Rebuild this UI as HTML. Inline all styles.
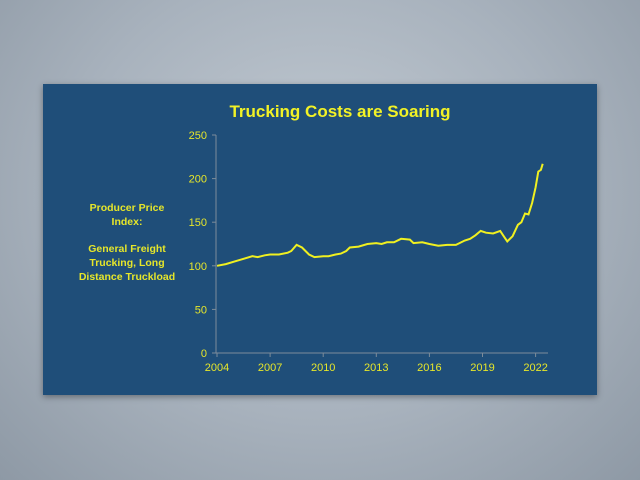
<!DOCTYPE html>
<html><head><meta charset="utf-8"><style>
html,body{margin:0;padding:0}
body{width:640px;height:480px;overflow:hidden;background:radial-gradient(ellipse at 50% 40%,#c3cbd3 0%,#a8b2bd 55%,#8e99a5 100%);font-family:"Liberation Sans",sans-serif}
#panel{position:absolute;left:43px;top:84px;width:554px;height:311px;background:#1f4e79;box-shadow:0 2px 6px rgba(0,0,0,.35)}
</style></head><body>
<div id="panel"></div>
<svg width="640" height="480" style="position:absolute;left:0;top:0">
<text x="340" y="117" text-anchor="middle" fill="#f2f226" font-size="17" font-weight="bold">Trucking Costs are Soaring</text>
<g fill="#e6e62a" font-size="10.5" font-weight="bold" text-anchor="middle">
<text x="127" y="211">Producer Price</text>
<text x="127" y="225">Index:</text>
<text x="127" y="252">General Freight</text>
<text x="127" y="266">Trucking, Long</text>
<text x="127" y="280">Distance Truckload</text>
</g>
<g id="axes"></g>
<path id="line" fill="none" stroke="#f0f020" stroke-width="2"/>
</svg>
<script>
const years=[2004,2004.5,2005,2005.5,2006,2006.3,2006.7,2007,2007.5,2008,2008.2,2008.5,2008.8,2009.2,2009.5,2010,2010.3,2010.7,2011,2011.3,2011.5,2012,2012.5,2013,2013.3,2013.6,2014,2014.4,2014.9,2015.1,2015.6,2016,2016.5,2017,2017.5,2018,2018.3,2018.6,2018.9,2019.2,2019.6,2020,2020.2,2020.4,2020.7,2021,2021.2,2021.4,2021.6,2021.8,2022,2022.15,2022.3,2022.4];
const values=[100,102,105,108,111,110,112,113,113,115,117,124,121,113,110,111,111,113,114,117,121,122,125,126,125,127,127,131,130,126,127,125,123,124,124,129,131,135,140,138,137,140,134,128,134,147,150,160,159,172,190,208,210,217];
const yTicks=[0,50,100,150,200,250];
const xTicks=[2004,2007,2010,2013,2016,2019,2022];
const x=v=>217+(v-2004)*17.7, y=v=>353-v*0.872;
const ns="http://www.w3.org/2000/svg",ax=document.getElementById('axes');
function mk(t,a){const e=document.createElementNS(ns,t);for(const k in a)e.setAttribute(k,a[k]);ax.appendChild(e);return e;}
let l=mk('line',{x1:216,x2:216,y1:y(250),y2:y(0),stroke:'#7d8c9a','stroke-width':1});


l=mk('line',{x1:216,x2:548,y1:y(0),y2:y(0),stroke:'#7d8c9a','stroke-width':1});


yTicks.forEach(v=>{mk('line',{x1:212,x2:216,y1:y(v),y2:y(v),stroke:'#7d8c9a'});
const t=mk('text',{x:207,y:y(v)+4,'text-anchor':'end',fill:'#e6e62a','font-size':11});t.textContent=v;

});
xTicks.forEach(v=>{mk('line',{x1:x(v),x2:x(v),y1:y(0),y2:y(0)+4,stroke:'#7d8c9a'});
const t=mk('text',{x:x(v),y:371,'text-anchor':'middle',fill:'#e6e62a','font-size':11});t.textContent=v;

});
document.getElementById('line').setAttribute('d',years.map((v,i)=>(i?'L':'M')+x(v).toFixed(1)+','+y(values[i]).toFixed(1)).join(''));
</script>
</body></html>
